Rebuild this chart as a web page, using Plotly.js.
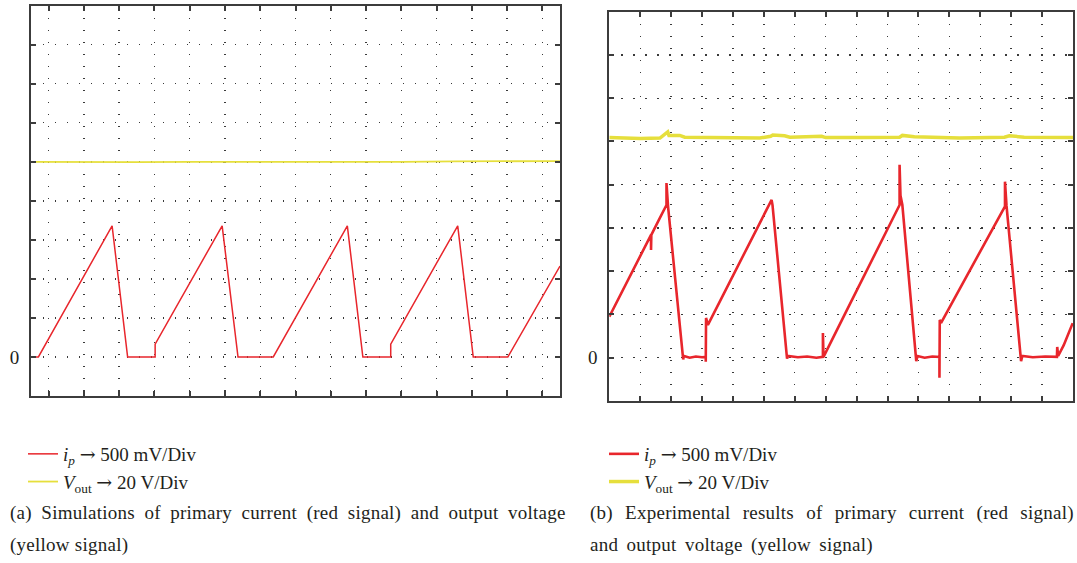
<!DOCTYPE html>
<html>
<head>
<meta charset="utf-8">
<script src="https://cdn.plot.ly/plotly-3.0.1.min.js"></script>
<style>
html,body{margin:0;padding:0;background:#fff;}
#chart{width:1077px;height:563px;}
.annotation text{letter-spacing:0.25px;}
.annotation[data-index="0"] text{word-spacing:4.5px;}
.annotation[data-index="2"] text{word-spacing:7.2px;}
.annotation[data-index="3"] text{word-spacing:3.4px;}
</style>
</head>
<body>
<div id="chart"></div>
<script>
// Values in oscilloscope divisions (x: time divisions, y: vertical divisions, 0 = ground)
// (a) Simulation
const simCurrentX = [0, 0.21, 2.30, 2.74, 3.52, 3.52, 5.42, 5.87, 6.87, 8.97, 9.41, 10.20, 10.20, 12.10, 12.54, 13.52, 15.0];
const simCurrentY = [0, 0, 3.36, 0, 0, 0.33, 3.36, 0, 0, 3.36, 0, 0, 0.33, 3.36, 0, 0, 2.33];
const simVoltageX = [0, 1.5, 3, 4.5, 6, 7.5, 9, 10.5, 12, 13.5, 15];
const simVoltageY = [5.0, 4.99, 4.99, 5.0, 5.0, 5.0, 4.99, 5.0, 5.01, 5.01, 5.02];

// (b) Experiment
const expCurrentX = [0, 0.5, 1.0, 1.35, 1.35, 1.36, 1.6, 1.85, 1.85, 1.88, 1.90, 2.39, 2.41, 2.6, 2.8, 3.0, 3.12, 3.12, 3.13, 3.19,
  3.6, 4.2, 4.8, 5.25, 5.28, 5.75, 5.78, 6.1, 6.4, 6.7, 6.91, 6.91, 6.93,
  7.6, 8.3, 9.0, 9.39, 9.39, 9.42, 9.48, 9.93, 9.97, 10.2, 10.45, 10.68, 10.68, 10.69, 10.75,
  11.4, 12.1, 12.80, 12.80, 12.83, 12.85, 13.32, 13.36, 13.7, 14.1, 14.48, 14.49, 14.52, 14.7, 14.99];
const expCurrentY = [0.95, 1.65, 2.35, 2.84, 2.49, 2.84, 3.18, 3.53, 4.04, 3.58, 3.50, -0.04, 0.04, 0.0, 0.03, 0.01, 0.02, -0.09, 0.92, 0.76,
  1.33, 2.17, 3.01, 3.65, 3.53, -0.02, 0.04, 0.01, 0.03, 0.0, 0.02, 0.57, 0.02,
  0.98, 1.98, 2.97, 3.53, 4.46, 3.75, 3.53, -0.08, 0.04, 0.0, 0.03, 0.02, -0.46, 0.87, 0.83,
  1.68, 2.59, 3.50, 4.07, 3.55, 3.51, -0.08, 0.04, 0.01, 0.03, 0.02, 0.25, 0.04, 0.29, 0.80];
const expVoltageX = [0, 1.0, 1.64, 1.89, 1.93, 2.28, 2.44, 2.93, 3.74, 4.87, 5.22, 5.29, 5.67, 5.84, 6.87, 7.0, 8.1, 9.39, 9.48, 9.87, 11.33, 12.78, 12.94, 13.42, 15];
const expVoltageY = [5.09, 5.07, 5.08, 5.22, 5.14, 5.14, 5.10, 5.10, 5.08, 5.08, 5.12, 5.15, 5.13, 5.10, 5.12, 5.09, 5.09, 5.10, 5.14, 5.11, 5.08, 5.10, 5.13, 5.10, 5.09];

const yDivsA = [-1, 1, 2, 3, 4, 5, 6, 7, 8, 9];
const yDivsB = [-1, 1, 2, 3, 4, 5, 6, 7, 8];
const zeroTick = [0];
const zeroLabel = ['0'];
const arrow = '<span style="font-family:DejaVu Serif">→</span>';
const nameCurrent = '<i>i</i><sub><i>p</i></sub> ' + arrow + ' 500 mV/Div';
const nameVoltage = '<i>V</i><sub>out</sub> ' + arrow + ' 20 V/Div';
const captionA = ['(a) Simulations of primary current (red signal) and output voltage', '(yellow signal)'];
const captionB = ['(b) Experimental results of primary current (red signal)', 'and output voltage (yellow signal)'];

const W = 1077, H = 563;
const px = v => v / W;
const py = v => 1 - v / H;
const serif = 'Liberation Serif, Times New Roman, serif';
const ink = '#231f20';
const frameColor = '#3c3c3c';
const red = '#e8262c', yellow = '#e6df3c';

const traces = [
  {x: simCurrentX, y: simCurrentY, xaxis: 'x', yaxis: 'y', mode: 'lines', name: nameCurrent, line: {color: red, width: 1.5}, legend: 'legend'},
  {x: simVoltageX, y: simVoltageY, xaxis: 'x', yaxis: 'y', mode: 'lines', name: nameVoltage, line: {color: yellow, width: 1.8}, legend: 'legend'},
  {x: expCurrentX, y: expCurrentY, xaxis: 'x2', yaxis: 'y2', mode: 'lines', name: nameCurrent, line: {color: red, width: 2.6}, legend: 'legend2'},
  {x: expVoltageX, y: expVoltageY, xaxis: 'x2', yaxis: 'y2', mode: 'lines', name: nameVoltage, line: {color: yellow, width: 3.5}, legend: 'legend2'}
];

const gridStyle = {showgrid: true, gridcolor: '#3a3a3a', gridwidth: 1.4, griddash: '1.4px,10.6px'};
const frame = Object.assign({showline: true, linecolor: frameColor, linewidth: 2, mirror: 'allticks', ticks: 'inside', ticklen: 5, tickwidth: 2, tickcolor: frameColor,
  zeroline: false, fixedrange: true}, gridStyle);

function yax(domain, range, divs) {
  return Object.assign({}, frame, {domain: domain, range: range, tickmode: 'array', tickvals: zeroTick, ticktext: zeroLabel,
    showticklabels: true, ticklabelstandoff: 6, tickfont: {family: serif, size: 19, color: ink},
    minor: Object.assign({tickmode: 'array', tickvals: divs, ticks: 'inside', ticklen: 5, tickwidth: 2, tickcolor: frameColor}, gridStyle)});
}
const legendBase = {xanchor: 'left', yanchor: 'top', bgcolor: 'rgba(0,0,0,0)', font: {family: serif, size: 19, color: ink}, tracegroupgap: 0};
function caption(text, x, y) {
  return {text: text, x: px(x), y: py(y), xref: 'paper', yref: 'paper', xanchor: 'left', yanchor: 'middle', align: 'left', showarrow: false,
    font: {family: serif, size: 19, color: ink}};
}

const layout = {
  width: W, height: H, margin: {l: 0, r: 0, t: 0, b: 0}, paper_bgcolor: '#fff', plot_bgcolor: '#fff',
  showlegend: true,
  xaxis: Object.assign({}, frame, {domain: [px(31), px(560)], range: [0, 15], tick0: 0.5, dtick: 1, showticklabels: false, anchor: 'y'}),
  yaxis: Object.assign(yax([py(396), py(5.7)], [-1, 9], yDivsA), {anchor: 'x'}),
  xaxis2: Object.assign({}, frame, {domain: [px(609.3), px(1073)], range: [0, 15], tick0: 0, dtick: 1, showticklabels: false, anchor: 'y2'}),
  yaxis2: Object.assign(yax([py(401), py(11.7)], [-1, 8], yDivsB), {anchor: 'x2'}),
  legend: Object.assign({x: px(23), y: py(435)}, legendBase),
  legend2: Object.assign({x: px(604), y: py(435)}, legendBase),
  annotations: [
    caption(captionA[0], 8, 513),
    caption(captionA[1], 8, 545),
    caption(captionB[0], 588, 513),
    caption(captionB[1], 588, 545)
  ]
};

Plotly.newPlot('chart', traces, layout, {displayModeBar: false, staticPlot: true});
</script>
</body>
</html>
